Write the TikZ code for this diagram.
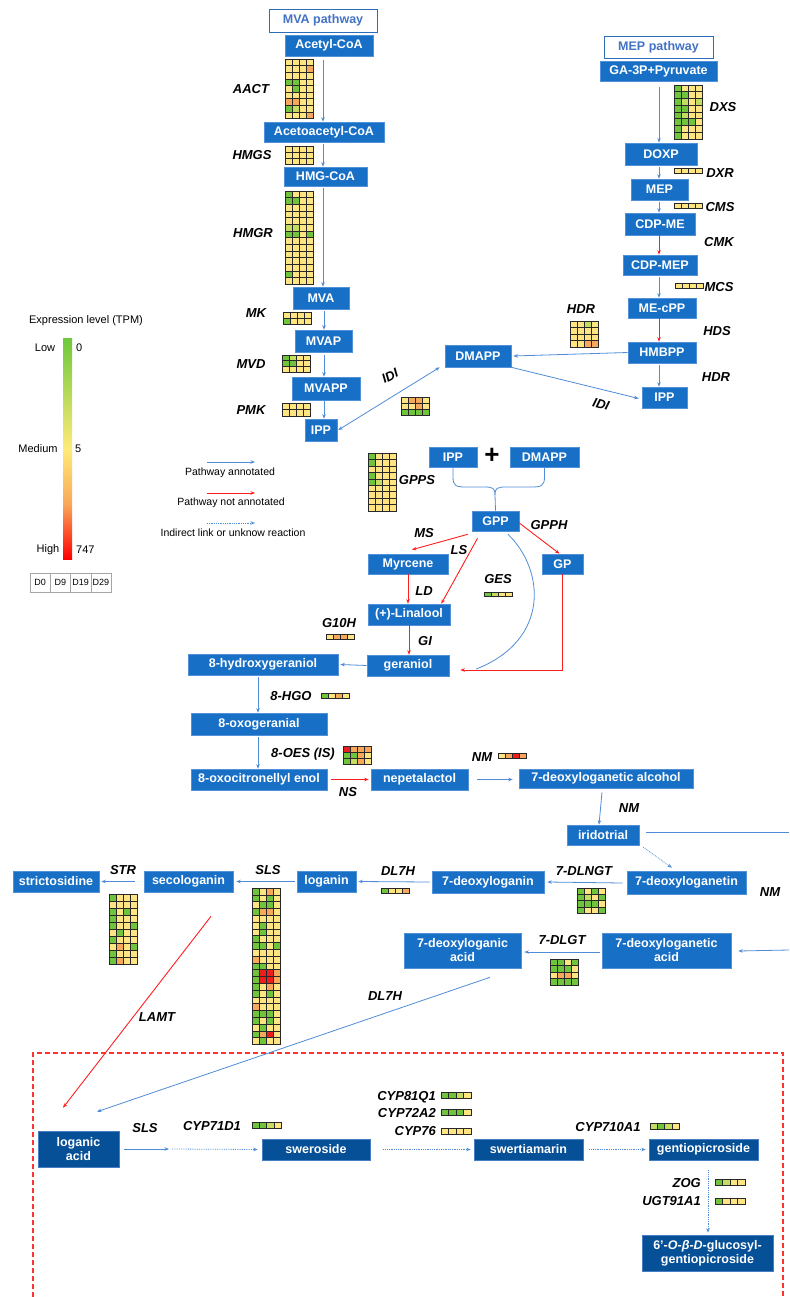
\documentclass[tikz,border=0pt]{standalone}
\usepackage{fontspec}
\setmainfont{Liberation Sans}
\usetikzlibrary{arrows.meta,calc}
\definecolor{boxblue}{RGB}{24,112,198}
\definecolor{boxedge}{RGB}{80,145,215}
\definecolor{darkblue}{RGB}{6,80,152}
\definecolor{darkedge}{RGB}{70,125,195}
\definecolor{pwedge}{RGB}{46,110,185}
\definecolor{pwtext}{RGB}{68,114,196}
\definecolor{arrblue}{RGB}{80,140,215}
\definecolor{arrred}{RGB}{255,30,30}
\definecolor{boxred}{RGB}{255,50,50}
\definecolor{hmg}{RGB}{112,196,60}
\definecolor{hml}{RGB}{196,220,96}
\definecolor{hmy}{RGB}{255,228,130}
\definecolor{hmo}{RGB}{248,168,90}
\definecolor{hmr}{RGB}{238,30,30}
\definecolor{hmline}{RGB}{40,40,40}
\definecolor{cbgreen}{RGB}{110,200,60}
\definecolor{cbyellow}{RGB}{255,235,120}
\definecolor{cbred}{RGB}{255,0,0}
\newcommand\bx[7][met]{\node[#1, minimum width={#5-#3}, minimum height={#6-#4}] (#2) at ({(#3+#5)/2},{(#4+#6)/2}) {#7};}
\newcommand\hmap[5][7]{%
  \foreach \rr [count=\ii from 0] in {#5} {%
    \foreach \cc [count=\jj from 0] in \rr {%
      \filldraw[fill=hm\cc, draw=hmline, line width=0.5pt] ({#2+\jj*#1},{#3+\ii*#4}) rectangle ++(#1,#4);
    }%
  }%
}
\begin{document}
\begin{tikzpicture}[x=1pt,y=-1pt,
  met/.style={rectangle, fill=boxblue, draw=boxedge, line width=0.6pt, text=white, font=\fontsize{12.5}{14}\selectfont\bfseries, inner sep=0pt, align=center},
  dmet/.style={met, fill=darkblue, draw=darkedge},
  pw/.style={rectangle, fill=white, draw=pwedge, line width=0.9pt, text=pwtext, font=\fontsize{12.5}{14}\selectfont\bfseries, inner sep=0pt},
  gene/.style={font=\fontsize{13}{15}\selectfont\bfseries\itshape, inner sep=0pt},
  lbl/.style={font=\fontsize{11}{13}\selectfont, inner sep=0pt},
  lgd/.style={font=\fontsize{10.5}{12}\selectfont, inner sep=0pt},
  tcell/.style={draw=gray!70, line width=0.5pt, minimum width=20.25, minimum height=19, inner sep=0pt, font=\fontsize{9}{10}\selectfont},
  ab/.style={draw=arrblue, line width=0.8pt, -{Stealth[length=4.5pt,width=3.5pt]}},
  abb/.style={draw=arrblue, line width=0.8pt, {Stealth[length=4.5pt,width=3.5pt]}-{Stealth[length=4.5pt,width=3.5pt]}},
  ar/.style={draw=arrred, line width=0.9pt, -{Stealth[length=4.5pt,width=3.5pt]}},
  ad/.style={ab, densely dotted},
  bline/.style={draw=arrblue, line width=0.8pt},
  redframe/.style={draw=boxred, line width=1.4pt, dash pattern=on 5pt off 3pt},
]
\fill[white] (0,0) rectangle (789,1297);
\useasboundingbox (0,0) rectangle (789,1297);

% ---------- MVA pathway ----------
\bx[pw]{mvapw}{269}{9}{377}{32}{MVA pathway}
\bx{acetyl}{285}{35}{373}{56}{Acetyl-CoA}
\bx{acetoacetyl}{264}{122}{384}{142}{Acetoacetyl-CoA}
\bx{hmgcoa}{284}{167}{367}{186}{HMG-CoA}
\bx{mva}{293}{287}{349}{309}{MVA}
\bx{mvap}{295}{330}{352}{352}{MVAP}
\bx{mvapp}{292}{377}{360}{400}{MVAPP}
\bx{ippa}{305}{419}{337}{441}{IPP}
\coordinate (colA) at (323,0);
\coordinate (colB) at (324,0);
\draw[ab] ([yshift=-4pt]acetyl.south -| colA) -- (acetoacetyl.north -| colA);
\draw[ab] ([yshift=-2pt]acetoacetyl.south -| colA) -- (hmgcoa.north -| colA);
\draw[ab] ([yshift=-2pt]hmgcoa.south -| colA) -- (mva.north -| colA);
\draw[ab] ([yshift=-2pt]mva.south -| colB) -- (mvap.north -| colB);
\draw[ab] ([yshift=-3pt]mvap.south -| colB) -- (mvapp.north -| colB);
\draw[ab] (mvapp.south -| colB) -- (ippa.north -| colB);

\node[gene] (gAACT) at (251,89) {AACT};
\node[gene] (gHMGS) at (252,155) {HMGS};
\node[gene] (gHMGR) at (253,233) {HMGR};
\node[gene] (gMK) at (256,313) {MK};
\node[gene] (gMVD) at (251,364) {MVD};
\node[gene] (gPMK) at (251,410) {PMK};

\hmap{285}{59}{6.6}{{y,y,y,y},{y,y,y,o},{y,y,y,y},{g,g,y,y},{y,g,y,y},{y,y,y,y},{o,o,y,y},{g,l,y,y},{y,y,y,o}}
\hmap{285}{146}{6}{{y,y,y,y},{y,y,y,y},{y,y,y,y}}
\hmap{285}{191}{6.65}{{g,y,y,y},{g,g,y,y},{y,y,y,y},{y,y,y,y},{y,y,y,y},{l,l,y,y},{g,g,y,g},{y,y,y,y},{y,y,y,y},{y,y,y,y},{y,y,y,y},{y,y,y,y},{g,y,y,y},{y,y,y,y}}
\hmap{283}{312}{6}{{y,y,y,y},{g,y,y,y}}
\hmap{282}{355}{5.7}{{g,l,y,y},{g,g,y,y},{y,y,y,y}}
\hmap{282}{403}{6.5}{{y,y,y,y},{y,y,y,y}}
\hmap{401}{397}{6}{{y,o,o,y},{y,y,o,y},{g,g,g,g}}

% ---------- MEP pathway ----------
\bx[pw]{meppw}{604}{36}{713}{58}{MEP pathway}
\bx{ga3p}{600}{61}{717}{81}{GA-3P+Pyruvate}
\bx{doxp}{625}{143}{697}{165}{DOXP}
\bx{mep}{631}{179}{688}{200}{MEP}
\bx{cdpme}{625}{213}{695}{235}{CDP-ME}
\bx{cdpmep}{623}{255}{697}{275}{CDP-MEP}
\bx{mecpp}{628}{298}{696}{318}{ME-cPP}
\bx{hmbpp}{628}{342}{696}{363}{HMBPP}
\bx{dmappa}{445}{345}{511}{367}{DMAPP}
\bx{ippb}{642}{387}{687}{408}{IPP}
\coordinate (colC) at (659,0);
\draw[ab] ([yshift=-6pt]ga3p.south -| colC) -- (doxp.north -| colC);
\draw[ab] ([yshift=-2pt]doxp.south -| colC) -- (mep.north -| colC);
\draw[ab] ([yshift=-2pt]mep.south -| colC) -- (cdpme.north -| colC);
\draw[ar] (cdpme.south -| colC) -- (cdpmep.north -| colC);
\draw[ab] ([yshift=-2pt]cdpmep.south -| colC) -- (mecpp.north -| colC);
\draw[ar] (mecpp.south -| colC) -- (hmbpp.north -| colC);
\draw[ab] ([yshift=-2pt]hmbpp.south -| colC) -- (ippb.north -| colC);
\draw[ab] (hmbpp.west) -- ([xshift=2pt]dmappa.east);
\draw[ab] (dmappa.south east) -- ([xshift=-3pt,yshift=-1pt]ippb.west);
\draw[abb] ([xshift=1pt]ippa.east) -- ([xshift=-5pt]dmappa.south west);

\node[gene] (gDXS) at (723,107) {DXS};
\node[gene] (gDXR) at (720,173) {DXR};
\node[gene] (gCMS) at (720,207) {CMS};
\node[gene] (gCMK) at (719,242) {CMK};
\node[gene] (gMCS) at (719,287) {MCS};
\node[gene] (gHDS) at (717,331) {HDS};
\node[gene] (gHDRa) at (581,309) {HDR};
\node[gene] (gHDRb) at (716,377) {HDR};
\node[gene, rotate=27] (gIDIa) at (390,376) {IDI};
\node[gene, rotate=-15] (gIDIb) at (601,404) {IDI};

\hmap{674}{85}{6.75}{{g,y,y,y},{g,g,y,y},{g,l,y,l},{g,g,y,y},{g,l,y,y},{g,g,g,y},{g,y,y,y},{g,y,y,y}}
\hmap{674}{168}{5}{{y,y,y,y}}
\hmap{674}{203}{5}{{y,y,y,y}}
\hmap{675}{283}{5}{{y,y,y,y}}
\hmap{570}{321}{6.5}{{y,y,l,y},{y,y,y,y},{y,y,y,y},{y,y,o,o}}

% ---------- Legend ----------
\node[lbl] (lgtitle) at (86,321) {Expression level (TPM)};
\shade[top color=cbgreen, bottom color=cbyellow] (63,338) rectangle (72,449);
\shade[top color=cbyellow, bottom color=cbred, middle color=hmo] (63,449) rectangle (72,559);
\node[lbl] (lgLow) at (45,348) {Low};
\node[lbl, anchor=west] (lg0) at (76,348) {0};
\node[lbl] (lgMed) at (38,449) {Medium};
\node[lbl, anchor=west] (lg5) at (75,449) {5};
\node[lbl] (lgHigh) at (48,550) {High};
\node[lbl, anchor=west] (lg747) at (76,550) {747};
\foreach \t [count=\k from 0] in {D0,D9,D19,D29} \node[tcell] (d\k) at ({40.125+\k*20.25},582.5) {\t};

\coordinate (la1) at (207,462); \coordinate (lb1) at (255,462);
\coordinate (la2) at (207,493); \coordinate (lb2) at (255,493);
\coordinate (la3) at (207,523); \coordinate (lb3) at (255,523);
\draw[ab] (la1) -- (lb1);
\draw[ar] (la2) -- (lb2);
\draw[ad] (la3) -- (lb3);
\node[lgd] (lgt1) at (230,473) {Pathway annotated};
\node[lgd] (lgt2) at (231,503) {Pathway not annotated};
\node[lgd] (lgt3) at (233,533) {Indirect link or unknow reaction};

% ---------- GPP ----------
\bx{ippc}{429}{447}{477}{467}{IPP}
\bx{dmappb}{510}{447}{579}{467}{DMAPP}
\node[font=\fontsize{26}{26}\selectfont\bfseries, inner sep=0pt] (plus) at (492,456) {+};
\bx{gpp}{472}{511}{519}{531}{GPP}
\bx{gp}{542}{554}{583}{574}{GP}
\bx{myrcene}{368}{554}{448}{574}{Myrcene}
\bx{linalool}{368}{604}{450}{625}{(+)-Linalool}
\bx{geraniol}{367}{655}{449}{676}{geraniol}
\bx{hydrox}{188}{654}{338}{675}{8-hydroxygeraniol}
\draw[bline] (ippc.south) -- (453,477) .. controls (453,486) and (456,487) .. (466,487) -- (484,487) .. controls (493,487) and (495,488) .. (495,495);
\draw[bline] (dmappb.south) -- (544.5,477) .. controls (544.5,486) and (541,487) .. (531,487) -- (506,487) .. controls (497,487) and (495,488) .. (495,495) -- (gpp.north);
\draw[ar] ([xshift=-4pt,yshift=-3pt]gpp.south west) -- ([xshift=4pt,yshift=4pt]myrcene.north);
\draw[ar] ([xshift=-18pt,yshift=-7pt]gpp.south) -- ([xshift=-9pt]linalool.north east);
\draw[ar] ([yshift=-2pt]gpp.east) -- ([xshift=-3pt]gp.north);
\draw[ar] (myrcene.south) -- (myrcene.south |- linalool.north);
\draw[ar] (linalool.south) -- (linalool.south |- geraniol.north);
\draw[ar] (gp.south) |- ([xshift=11pt,yshift=-4.5pt]geraniol.east);
\draw[bline] ([xshift=12.5pt,yshift=-3pt]gpp.south) .. controls (545,570) and (550,640) .. ([xshift=27pt,yshift=-3.5pt]geraniol.east);
\draw[ab] (geraniol.west) -- ([xshift=2pt]hydrox.east);

\node[gene] (gGPPS) at (417,480) {GPPS};
\node[gene] (gGPPH) at (549,525) {GPPH};
\node[gene] (gMS) at (424,533) {MS};
\node[gene] (gLS) at (459,550) {LS};
\node[gene] (gLD) at (424,591) {LD};
\node[gene] (gGES) at (498,579) {GES};
\node[gene] (gGI) at (425,641) {GI};
\node[gene] (gG10H) at (339,623) {G10H};

\hmap{368}{453}{6.45}{{g,y,y,y},{g,y,y,y},{y,y,y,y},{g,y,y,y},{g,l,y,y},{y,y,y,y},{y,y,y,y},{y,y,y,y},{y,y,y,y}}
\hmap{484}{592}{4.5}{{g,l,y,y}}
\hmap{326}{634}{5}{{y,o,o,y}}

% ---------- Iridoid ----------
\bx{oxoger}{191}{713}{327}{735}{8-oxogeranial}
\bx{oxocit}{191}{769}{327}{790}{8-oxocitronellyl enol}
\bx{nepeta}{371}{769}{468}{790}{nepetalactol}
\bx{dla}{519}{769}{693}{788}{7-deoxyloganetic alcohol}
\bx{irido}{567}{825}{639}{845}{iridotrial}
\bx{dlgtin}{627}{871}{746}{894}{7-deoxyloganetin}
\bx{dlogin}{432}{871}{544}{893}{7-deoxyloganin}
\bx{loganin}{297}{871}{356}{892}{loganin}
\bx{seco}{144}{871}{233}{892}{secologanin}
\bx{stric}{13}{871}{99}{892}{strictosidine}
\bx{dlacid}{602}{933}{731}{968}{7-deoxyloganetic\\acid}
\bx{dlacidb}{404}{933}{521}{968}{7-deoxyloganic\\acid}
\coordinate (colD) at (258,0);
\draw[ab] ([yshift=-2pt]hydrox.south -| colD) -- (oxoger.north -| colD);
\draw[ab] ([yshift=-2pt]oxoger.south -| colD) -- (oxocit.north -| colD);
\draw[ar] ([xshift=4pt]oxocit.east) -- ([xshift=-2pt]nepeta.west);
\draw[ab] ([xshift=9pt]nepeta.east) -- ([xshift=-6pt,yshift=-1pt]dla.west);
\draw[ab] ([xshift=-4pt,yshift=-4pt]dla.south) -- ([xshift=-4pt]irido.north);
\coordinate (edgeA) at (789,832);
\coordinate (edgeB) at (789,950);
\draw[bline] ([xshift=7pt,yshift=3pt]irido.east) -- (edgeA);
\draw[ad] ([xshift=4pt,yshift=-2pt]irido.south east) -- ([xshift=-14.5pt,yshift=3pt]dlgtin.north);
\draw[ab] ([xshift=-4pt,yshift=-0.5pt]dlgtin.west) -- ([xshift=3pt]dlogin.east);
\draw[ab] ([xshift=-2pt]dlogin.west) -- ([xshift=2pt]loganin.east);
\draw[ab] ([xshift=-2pt]loganin.west) -- ([xshift=3pt]seco.east);
\draw[ab] ([xshift=-9pt]seco.west) -- ([xshift=2pt]stric.east);
\draw[ab] (edgeB) -- ([xshift=7pt,yshift=-0.5pt]dlacid.east);
\draw[ab] ([xshift=-2pt,yshift=-1.5pt]dlacid.west) -- ([xshift=3pt,yshift=-1.5pt]dlacidb.east);

\node[gene] (g8HGO) at (291,696) {8-HGO};
\node[gene] (g8OES) at (303,754) {8-OES (IS)};
\node[gene] (gNS) at (348,792) {NS};
\node[gene] (gNMa) at (482,757) {NM};
\node[gene] (gNMb) at (629,808) {NM};
\node[gene] (gNMc) at (770,892) {NM};
\node[gene] (g7DLNGT) at (584,871) {7-DLNGT};
\node[gene] (g7DLGT) at (562,940) {7-DLGT};
\node[gene] (gSTR) at (123,870) {STR};
\node[gene] (gSLSa) at (268,870) {SLS};
\node[gene] (gDL7Ha) at (398,871) {DL7H};
\node[gene] (gLAMT) at (157,1017) {LAMT};
\node[gene] (gDL7Hb) at (385,996) {DL7H};

\hmap{321}{693}{5}{{g,y,o,y}}
\hmap{343}{746}{6}{{r,o,o,o},{g,g,o,y},{g,l,o,y}}
\hmap{498}{753}{5}{{y,o,r,o}}
\hmap{577}{888}{6.25}{{g,y,g,y},{g,l,y,g},{g,g,g,y},{g,y,y,g}}
\hmap{550}{959}{6.5}{{g,g,y,g},{g,g,g,y},{y,o,o,y},{g,g,g,g}}
\hmap{381}{888}{5}{{g,y,y,o}}
\hmap{109}{894}{7}{{g,y,y,y},{y,y,y,y},{g,y,g,y},{g,y,y,y},{g,y,y,g},{y,g,y,y},{g,y,y,y},{y,o,y,g},{g,y,y,y},{g,o,y,y}}
\hmap{252}{888}{6.8}{{g,y,o,y},{g,y,g,y},{y,g,g,y},{g,o,o,y},{y,y,y,y},{y,g,y,y},{y,g,y,y},{g,y,y,y},{g,g,y,g},{y,y,y,y},{o,y,y,y},{g,g,y,y},{g,r,r,o},{g,r,r,o},{g,y,o,y},{g,y,g,y},{y,y,y,y},{o,y,y,y},{g,g,g,y},{g,y,g,y},{y,g,y,y},{g,o,r,y},{y,g,y,y}}

% ---------- Bottom box ----------
\draw[redframe] (33,1297) -- (33,1053) -- (783,1053) -- (783,1297);
\bx[dmet]{logacid}{38}{1131}{119}{1167}{loganic\\acid}
\bx[dmet]{swero}{262}{1139}{370}{1160}{sweroside}
\bx[dmet]{swert}{474}{1139}{583}{1160}{swertiamarin}
\bx[dmet]{gentio}{649}{1139}{758}{1160}{gentiopicroside}
\bx[dmet]{glucosyl}{642}{1235}{773}{1271}{6'-\textit{O}-\textit{β}-\textit{D}-glucosyl-\\gentiopicroside}
\draw[ar] ([xshift=22.5pt,yshift=-24pt]seco.south) -- ([xshift=-15.5pt,yshift=23pt]logacid.north);
\draw[ab] ([xshift=27.5pt,yshift=-9pt]dlacidb.south) -- ([xshift=18.5pt,yshift=19pt]logacid.north);
\coordinate (midSLS) at (169,1149);
\draw[ab] ([xshift=5pt]logacid.east) -- (midSLS);
\draw[ad] ([xshift=3pt]midSLS) -- ([xshift=-4pt]swero.west);
\draw[ad] ([xshift=13pt]swero.east) -- ([xshift=-3pt]swert.west);
\draw[ad] ([xshift=6pt]swert.east) -- ([xshift=-3pt]gentio.west);
\draw[ad] ([xshift=4.5pt,yshift=-10pt]gentio.south) -- ([xshift=0.5pt,yshift=2pt]glucosyl.north);

\node[gene] (gSLSb) at (145,1128) {SLS};
\node[gene] (gCYP71) at (212,1126) {CYP71D1};
\node[gene, anchor=east] (gCYP81) at (436,1097) {CYP81Q1};
\node[gene, anchor=east] (gCYP72) at (436,1113) {CYP72A2};
\node[gene, anchor=east] (gCYP76) at (436,1131) {CYP76};
\node[gene] (gCYP710) at (608,1127) {CYP710A1};
\node[gene, anchor=east] (gZOG) at (701,1183) {ZOG};
\node[gene, anchor=east] (gUGT) at (701,1201) {UGT91A1};

\hmap[7.25]{252}{1122}{6}{{g,g,l,y}}
\hmap[7.5]{441}{1092}{6}{{g,g,l,y}}
\hmap[7.5]{441}{1109}{6}{{g,g,g,y}}
\hmap[7.5]{441}{1128}{6}{{y,y,y,y}}
\hmap[7.25]{650}{1123}{6}{{l,g,l,y}}
\hmap[7.5]{715}{1179}{6}{{g,l,y,y}}
\hmap[7.5]{715}{1198}{6}{{g,y,y,y}}
\end{tikzpicture}
\end{document}
